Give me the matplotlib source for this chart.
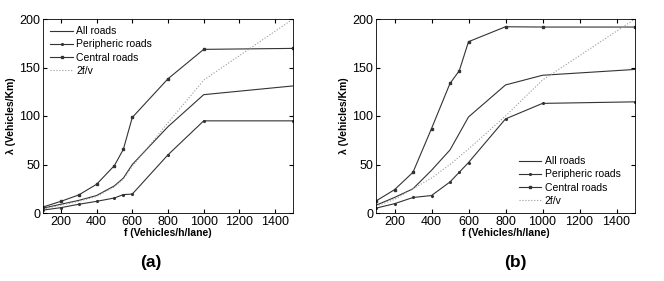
import matplotlib
matplotlib.use("Agg")
import matplotlib.pyplot as plt

plt.rcParams['font.family'] = ['Liberation Sans', 'DejaVu Sans']

f = [100, 200, 300, 400, 500, 550, 600, 800, 1000, 1500]

# panel (a)
all_a = [5, 9, 13, 18, 28, 36, 50, 89, 122, 131]
peri_a = [3, 5.5, 9, 12, 15.5, 19, 19.5, 60, 95, 95]
central_a = [6.2, 12, 18.6, 29.6, 48.9, 65.7, 98.5, 138.4, 168.7, 169.7]
twofv_a = [4, 8, 12, 17, 27, 35, 48, 93, 137, 200]

# panel (b)
all_b = [8, 16, 25, 44, 65, 82, 99, 132, 142, 148]
peri_b = [5, 9.6, 16, 18, 32, 42, 52, 97, 113, 114.6]
central_b = [12.4, 24, 42, 87, 133.6, 146.6, 176.6, 192, 191.7, 191.7]
twofv_b = [7, 14, 25, 36, 50, 58, 66, 100, 137, 200]

xticks = [200, 400, 600, 800, 1000, 1200, 1400]
yticks = [0, 50, 100, 150, 200]


def draw_panel(ax, all_r, peri, central, twofv, legend_loc, anchor):
    ax.plot(f, all_r, color='#333333', lw=0.8, label='All roads')
    ax.plot(f, peri, color='#333333', lw=0.8, marker='.', ms=2.5, label='Peripheric roads')
    ax.plot(f, central, color='#333333', lw=0.8, marker='s', ms=2, label='Central roads')
    ax.plot(f, twofv, color='#999999', lw=0.8, ls=':', label='2f/v')
    ax.set_xlim(100, 1500)
    ax.set_ylim(0, 200)
    ax.set_xticks(xticks)
    ax.set_yticks(yticks)
    ax.tick_params(direction='in', top=True, right=True, labelsize=9, length=3, pad=2)
    ax.set_xlabel('f (Vehicles/h/lane)', fontsize=7.5, fontweight='bold', labelpad=0)
    ax.set_ylabel('λ (Vehicles/Km)', fontsize=7.5, fontweight='bold', labelpad=2)
    for s in ax.spines.values():
        s.set_linewidth(0.6)
    ax.legend(loc=legend_loc, bbox_to_anchor=anchor, frameon=False, fontsize=7.5,
              handlelength=2.2, borderaxespad=0.3, labelspacing=0.3, handletextpad=0.3)


fig = plt.figure(figsize=(6.64, 2.81), dpi=100)
ax1 = fig.add_axes([43 / 664, 1 - 213 / 281, 250 / 664, 194 / 281])
ax2 = fig.add_axes([376 / 664, 1 - 213 / 281, 259 / 664, 194 / 281])

draw_panel(ax1, all_a, peri_a, central_a, twofv_a, 'upper left', (0, 1))
draw_panel(ax2, all_b, peri_b, central_b, twofv_b, 'lower right', (0.972, 0))

fig.text(151 / 664, 1 - 263 / 281, '(a)', fontsize=12.5, fontweight='bold', ha='center', va='center')
fig.text(515 / 664, 1 - 263 / 281, '(b)', fontsize=12.5, fontweight='bold', ha='center', va='center')

fig.savefig('out.png', dpi=100)
